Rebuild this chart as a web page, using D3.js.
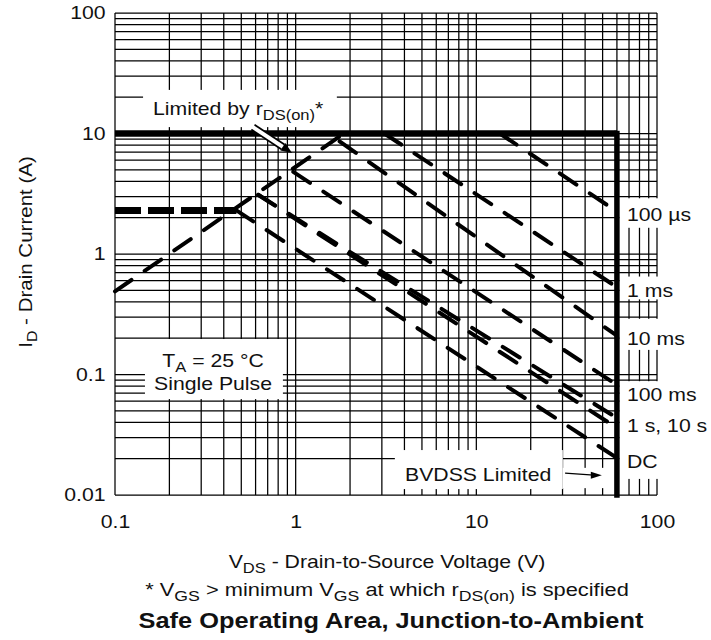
<!DOCTYPE html>
<html>
<head>
<meta charset="utf-8">
<script src="https://cdn.jsdelivr.net/npm/d3@7"></script>
<style>
  html, body { margin: 0; padding: 0; background: #fff; }
  svg { display: block; }
  text { font-family: "Liberation Sans", Arial, Helvetica, sans-serif; fill: #111; }
</style>
</head>
<body>
<svg id="chart" width="711" height="640"></svg>
<script>
// ---- data -------------------------------------------------------------
const xTickValues = [0.1, 1, 10, 100];
const yTickValues = [0.01, 0.1, 1, 10, 100];

// single-pulse SOA limits (V, A): start point and end point at BVDSS
const pulseNames  = ["100 µs", "1 ms", "10 ms", "100 ms", "1 s", "10 s", "DC"];
const pulseStartV = [13.5, 3.1, 1.75, 0.97, 0.62, 0.62, 0.47];
const pulseStartI = [10, 10, 8.6, 4.8, 3.1, 3.1, 2.3];
const pulseEndV   = [60, 60, 60, 60, 60, 60, 60];
const pulseEndI   = [2.25, 0.53, 0.21, 0.082, 0.0436, 0.036, 0.0203];

// on-resistance limit line
const rdsV = [0.1, 1.85];
const rdsI = [0.49, 10];

// continuous current limit (dashed, heavy)
const contV = [0.1, 0.47];
const contI = [2.3, 2.3];

// peak current limit and breakdown voltage limit
const peakV = [0.1, 60];
const peakI = [10, 10];
const bvdssV = [60, 60];
const bvdssI = [10, 0.01];

// labels on the right edge
const endLabels   = ["100 µs", "1 ms", "10 ms", "100 ms", "1 s, 10 s", "DC"];
const endLabelY   = [221, 297, 345, 401, 432, 468];

// ---- layout -----------------------------------------------------------
const svg = d3.select("#chart");
const x = d3.scaleLog().domain([0.1, 100]).range([115, 657]);
const y = d3.scaleLog().domain([0.01, 100]).range([495, 13]);
const SX = 1.18;              // horizontal stretch of the lettering
const FS = 18;

// white panels behind annotation text (in data units)
const panels = [
  { v0: 0.143, v1: 1.69, i0: 23,    i1: 11.3 },
  { v0: 0.1465, v1: 0.85, i0: 0.197, i1: 0.0625 },
  { v0: 3.54,  v1: 30.1, i0: 0.0236, i1: 0.0112 },
  { v0: 30.1,  v1: 54,   i0: 0.0168, i1: 0.0114 },
  { v0: 62, v1: 300, i0: 2.9,   i1: 1.65 },
  { v0: 62, v1: 300, i0: 0.65,  i1: 0.42 },
  { v0: 62, v1: 300, i0: 0.29,  i1: 0.16 },
  { v0: 62, v1: 300, i0: 0.088, i1: 0.0136 }
];

// ---- grid -------------------------------------------------------------
const grid = svg.append("g").attr("stroke", "#000").attr("stroke-width", 1.25);
grid.selectAll("line.v").data(x.ticks()).join("line")
  .attr("x1", d => x(d)).attr("x2", d => x(d))
  .attr("y1", y(100)).attr("y2", y(0.01));
grid.selectAll("line.h").data(y.ticks()).join("line")
  .attr("y1", d => y(d)).attr("y2", d => y(d))
  .attr("x1", x(0.1)).attr("x2", x(100));

svg.append("g").selectAll("rect").data(panels).join("rect")
  .attr("x", d => x(d.v0)).attr("width", d => x(d.v1) - x(d.v0))
  .attr("y", d => y(d.i0)).attr("height", d => y(d.i1) - y(d.i0))
  .attr("fill", "#fff");

// ---- limit lines ------------------------------------------------------
const line = d3.line().x(d => x(d[0])).y(d => y(d[1]));
const pts = (vs, is) => vs.map((v, k) => [v, is[k]]);

const pulses = pulseNames.map((n, k) => ({
  name: n,
  pts: [[pulseStartV[k], pulseStartI[k]], [pulseEndV[k], pulseEndI[k]]]
}));

svg.append("g").selectAll("path").data(pulses).join("path")
  .attr("d", d => line(d.pts))
  .attr("fill", "none").attr("stroke", "#000")
  .attr("stroke-width", 4).attr("stroke-linecap", "round")
  .attr("stroke-dasharray", "20,16");

svg.append("path").attr("d", line(pts(rdsV, rdsI)))
  .attr("fill", "none").attr("stroke", "#000")
  .attr("stroke-width", 4).attr("stroke-linecap", "round")
  .attr("stroke-dasharray", "20,16");

svg.append("path").attr("d", line(pts(contV, contI)))
  .attr("fill", "none").attr("stroke", "#000")
  .attr("stroke-width", 7).attr("stroke-dasharray", "26,7");

svg.append("path").attr("d", line(pts(peakV, peakI)))
  .attr("fill", "none").attr("stroke", "#000").attr("stroke-width", 6.5);
svg.append("path").attr("d", line(pts(bvdssV, bvdssI)))
  .attr("fill", "none").attr("stroke", "#000").attr("stroke-width", 5.5)
  .attr("stroke-linecap", "square");

// ---- hollow pointer to the rDS(on) limit --------------------------------
{
  const a = [x(0.58), y(11.3)], b = [x(0.955), y(6.9)];
  const ang = Math.atan2(b[1] - a[1], b[0] - a[0]);
  const back = [b[0] - 11 * Math.cos(ang), b[1] - 11 * Math.sin(ang)];
  const g = svg.append("g");
  g.append("line").attr("x1", a[0]).attr("y1", a[1]).attr("x2", back[0]).attr("y2", back[1])
    .attr("stroke", "#000").attr("stroke-width", 7.5);
  g.append("line").attr("x1", a[0] - 1.5 * Math.cos(ang)).attr("y1", a[1] - 1.5 * Math.sin(ang))
    .attr("x2", back[0]).attr("y2", back[1])
    .attr("stroke", "#fff").attr("stroke-width", 4);
  const n = [-Math.sin(ang), Math.cos(ang)];
  g.append("path")
    .attr("d", `M${b[0]},${b[1]}L${back[0] + 4.5 * n[0]},${back[1] + 4.5 * n[1]}L${back[0] - 4.5 * n[0]},${back[1] - 4.5 * n[1]}Z`)
    .attr("fill", "#000");
}

// ---- BVDSS pointer -----------------------------------------------------
{
  const a = [x(31), y(0.0152)], b = [x(49.5), y(0.0146)];
  const g = svg.append("g");
  g.append("line").attr("x1", a[0]).attr("y1", a[1]).attr("x2", b[0] - 8).attr("y2", b[1])
    .attr("stroke", "#000").attr("stroke-width", 1.3);
  g.append("path").attr("d", `M${b[0]},${b[1]}L${b[0] - 11},${b[1] - 3.5}L${b[0] - 11},${b[1] + 3.5}Z`)
    .attr("fill", "#000");
}

// ---- text helper: runs of normal / subscript text ----------------------
function label(parent, px, py, parts, opt = {}) {
  const size = opt.size || FS;
  const sx = opt.sx || SX;
  const t = parent.append("text")
    .attr("transform", `translate(${px},${py}) ${opt.rotate ? "rotate(-90)" : ""} scale(${sx},1)`)
    .attr("text-anchor", opt.anchor || "start")
    .style("font-size", size + "px")
    .style("font-weight", opt.weight || "normal");
  let shift = 0;
  parts.forEach(p => {
    const isSub = Array.isArray(p);
    const s = t.append("tspan").text(isSub ? p[0] : p);
    const target = isSub ? Math.round(size * 0.25) : 0;
    if (target !== shift) { s.attr("dy", target - shift); shift = target; }
    if (isSub) s.style("font-size", Math.round(size * 0.8) + "px");
  });
  return t;
}

// ---- axes --------------------------------------------------------------
const fmt = d => String(d);
const xAxis = svg.append("g").attr("transform", `translate(0,${y(0.01)})`)
  .call(d3.axisBottom(x).tickValues(xTickValues).tickFormat(fmt).tickSize(0).tickPadding(20));
const yAxis = svg.append("g").attr("transform", `translate(${x(0.1)},0)`)
  .call(d3.axisLeft(y).tickValues(yTickValues).tickFormat(fmt).tickSize(0).tickPadding(8));
[xAxis, yAxis].forEach(ax => {
  ax.select(".domain").remove();
  ax.selectAll("text")
    .attr("transform", `scale(${SX},1)`)
    .style("font-size", FS + "px")
    .style("font-family", '"Liberation Sans", Arial, sans-serif')
    .attr("fill", "#111");
});

// ---- annotations -------------------------------------------------------
const ann = svg.append("g");
label(ann, 153, 115, ["Limited by r", ["DS(on)"], "*"]);
label(ann, 213, 367, ["T", ["A"], " = 25 °C"], { anchor: "middle" });
label(ann, 213, 390, ["Single Pulse"], { anchor: "middle" });
label(ann, 405, 481, ["BVDSS Limited"]);
endLabels.forEach((s, k) => label(ann, 627, endLabelY[k], [s]));

label(ann, 32, 252, ["I", ["D"], " - Drain Current (A)"], { anchor: "middle", rotate: true, sx: 1.14 });
label(ann, 387, 568, ["V", ["DS"], " - Drain-to-Source Voltage (V)"], { anchor: "middle" });
label(ann, 387, 596, ["* V", ["GS"], " > minimum V", ["GS"], " at which r", ["DS(on)"], " is specified"], { anchor: "middle", size: 18.5 });
label(ann, 391, 628, ["Safe Operating Area, Junction-to-Ambient"], { anchor: "middle", weight: "bold", size: 21.5 });
</script>
</body>
</html>
